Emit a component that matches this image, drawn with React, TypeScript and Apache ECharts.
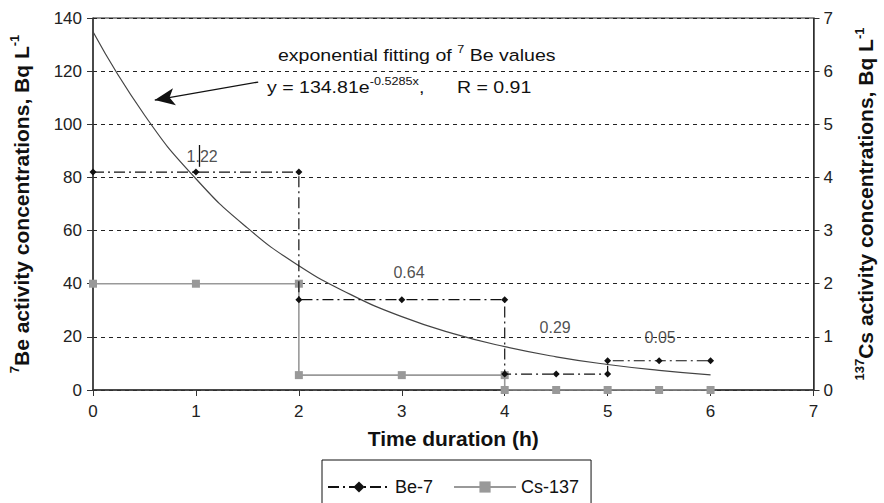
import React, { useEffect, useRef } from "react";
import * as echarts from "echarts";

const timeTicks = [0, 1, 2, 3, 4, 5, 6, 7];
const beX = [0, 1, 2, 2, 3, 4, 4, 4.5, 5, 5, 5.5, 6];
const beY = [82, 82, 82, 34, 34, 34, 6, 6, 6, 11, 11, 11];
const csX = [0, 1, 2, 2, 3, 4, 4, 4.5, 5, 5.5, 6];
const csY = [2, 2, 2, 0.28, 0.28, 0.28, 0, 0, 0, 0, 0];
const fitX = [0, 0.5, 1, 1.5, 2, 2.5, 3, 3.5, 4, 4.5, 5, 5.5, 6];
const fitY = [134.8, 103.5, 79.5, 61.0, 46.8, 36.0, 27.6, 21.2, 16.3, 12.5, 9.6, 7.4, 5.7];
const ratioLabels = ["1.22", "0.64", "0.29", "0.05"];
const ratioX = [1.06, 3.07, 4.49, 5.51];
const ratioY = [87.7, 44.4, 23.7, 19.9];

const FONT = "Liberation Sans, Arial, sans-serif";

export default function App() {
  const ref = useRef<HTMLDivElement>(null);
  useEffect(() => {
    if (!ref.current) return;
    const chart = echarts.init(ref.current, null, { renderer: "svg" });
    const supRich = {
      s: { fontSize: 13, fontWeight: "bold", fontFamily: FONT, color: "#111", verticalAlign: "top", lineHeight: 26 },
      t: { fontSize: 21, fontWeight: "bold", fontFamily: FONT, color: "#111", lineHeight: 26 },
    };
    const annRich = {
      s: { fontSize: 11, fontFamily: FONT, verticalAlign: "top", lineHeight: 22, fill: "#111" },
    };
    chart.setOption({
      animation: false,
      textStyle: { fontFamily: FONT },
      grid: { left: 93, right: 67, top: 18, bottom: 113, show: true, borderColor: "#222", borderWidth: 1 },
      legend: {
        data: ["Be-7", "Cs-137"],
        left: 322,
        top: 460,
        padding: [18, 12, 24, 5],
        itemGap: 20,
        itemWidth: 62,
        itemHeight: 14,
        borderColor: "#111",
        borderWidth: 1,
        borderRadius: 0,
        textStyle: { fontSize: 18, color: "#111", fontFamily: FONT },
      },
      xAxis: {
        type: "value",
        min: 0,
        max: 7,
        interval: 1,
        name: "Time duration (h)",
        nameLocation: "middle",
        nameGap: 38,
        nameTextStyle: { fontSize: 21, fontWeight: "bold", color: "#111", fontFamily: FONT },
        axisLine: { lineStyle: { color: "#333", width: 1.5 } },
        axisTick: { show: true, length: 6, lineStyle: { color: "#333" } },
        axisLabel: {
          fontSize: 17, color: "#222", margin: 13,
          formatter: (v: number) => (timeTicks.includes(v) ? String(v) : ""),
        },
        splitLine: { show: false },
      },
      yAxis: [
        {
          type: "value",
          min: 0,
          max: 140,
          interval: 20,
          name: "{s|7}{t|Be activity concentrations, Bq L}{s|-1}",
          nameLocation: "middle",
          nameGap: 59,
          nameTextStyle: { rich: supRich },
          axisLine: { show: true, lineStyle: { color: "#333", width: 1.5 } },
          axisTick: { show: true, length: 6, lineStyle: { color: "#333" } },
          axisLabel: { fontSize: 17, color: "#222", margin: 11 },
          splitLine: { show: true, lineStyle: { color: "#222", type: [4, 4], width: 1 } },
        },
        {
          type: "value",
          min: 0,
          max: 7,
          interval: 1,
          position: "right",
          name: "{s|137}{t|Cs activity concentrations, Bq L}{s|-1}",
          nameLocation: "middle",
          nameGap: 39,
          nameRotate: 90,
          nameTextStyle: { rich: supRich },
          axisLine: { show: true, lineStyle: { color: "#333", width: 1.5 } },
          axisTick: { show: true, length: 6, lineStyle: { color: "#333" } },
          axisLabel: { fontSize: 17, color: "#222", margin: 10 },
          splitLine: { show: false },
        },
      ],
      series: [
        {
          name: "fit",
          type: "line",
          data: fitX.map((x, i) => [x, fitY[i]]),
          smooth: true,
          showSymbol: false,
          symbol: "none",
          lineStyle: { color: "#444", width: 1.2 },
          z: 3,
          markLine: {
            silent: true,
            symbol: ["none", "arrow"],
            symbolSize: [13, 20],
            label: { show: false },
            lineStyle: { type: "solid", color: "#111", width: 1.3 },
            data: [
              [{ coord: [1.605, 115.9] }, { coord: [0.6, 109.1] }],
              [
                { coord: [1.035, 92.2], symbol: "none" },
                { coord: [1.035, 84], symbol: "none" },
              ],
            ],
          },
        },
        {
          name: "Cs-137",
          type: "line",
          yAxisIndex: 1,
          data: csX.map((x, i) => [x, csY[i]]),
          symbol: "rect",
          symbolSize: 8,
          itemStyle: { color: "#999" },
          lineStyle: { color: "#999", width: 1.6, type: "solid" },
          z: 4,
        },
        {
          name: "Be-7",
          type: "line",
          data: beX.map((x, i) => [x, beY[i]]),
          symbol: "diamond",
          symbolSize: 7,
          itemStyle: { color: "#111" },
          lineStyle: { color: "#111", width: 1.2, type: [11, 4, 2, 4] },
          z: 5,
        },
        {
          name: "ratios",
          type: "scatter",
          data: ratioX.map((x, i) => ({ value: [x, ratioY[i]], label: { formatter: ratioLabels[i] } })),
          symbolSize: 0,
          label: {
            show: true,
            position: "inside",
            fontSize: 16,
            color: "#222",
            fontFamily: FONT,
          },
          z: 6,
        },
      ],
      graphic: [
        {
          type: "text",
          x: 278,
          y: 44,
          scaleX: 1.15,
          style: {
            text: "exponential fitting of {s|7} Be values",
            font: "17px " + FONT,
            fill: "#111",
            rich: annRich,
            lineHeight: 22,
          },
        },
        {
          type: "text",
          x: 267,
          y: 76,
          scaleX: 1.15,
          style: {
            text: "y = 134.81e{s|-0.5285x},      R = 0.91",
            font: "17px " + FONT,
            fill: "#111",
            rich: annRich,
            lineHeight: 22,
          },
        },
      ],
    });
    return () => chart.dispose();
  }, []);
  return <div ref={ref} style={{ position: "absolute", left: 0, top: 0, width: 884, height: 503 }} />;
}
